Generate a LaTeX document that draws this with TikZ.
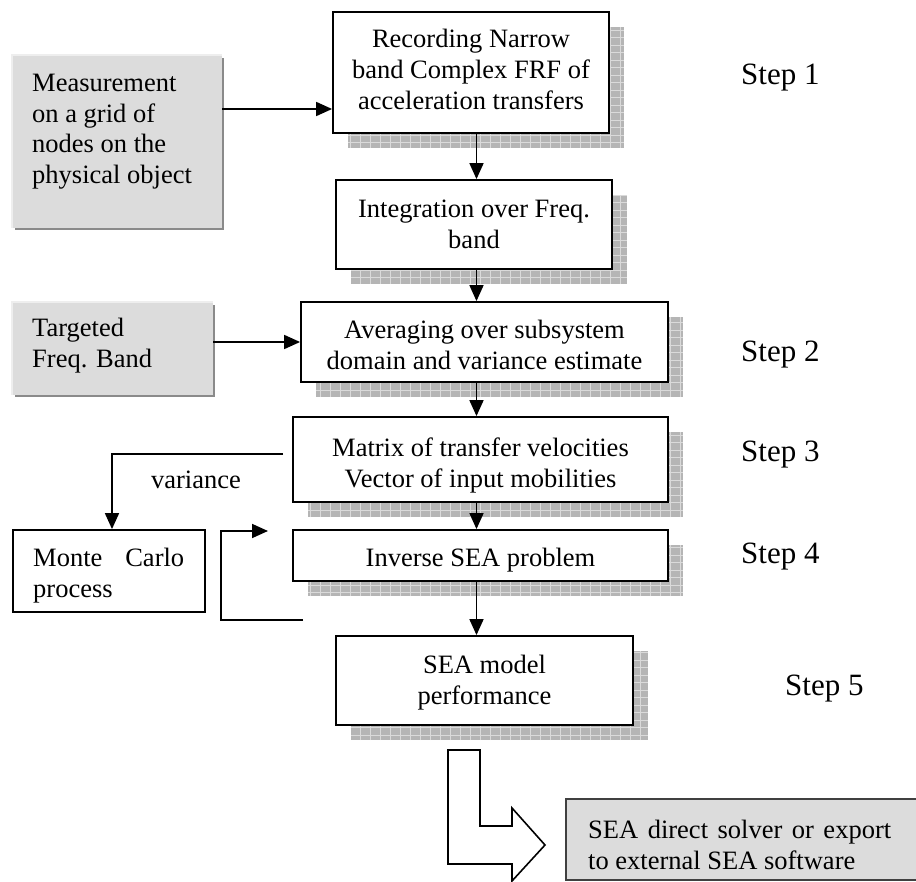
\documentclass[tikz,border=0pt]{standalone}
\usepackage{fontspec}
\setmainfont{Liberation Serif}
\usetikzlibrary{arrows.meta}
\definecolor{gfill}{HTML}{DCDCDC}
\definecolor{glight}{HTML}{EEEEEE}
\definecolor{gdark}{HTML}{8A8A8A}
\definecolor{shadc}{HTML}{B5B5B5}
\definecolor{shadl}{HTML}{DADADA}
\newcommand\shad[4]{%
  \fill[shadc] ({#1+15},{#2+15}) rectangle ({#3+15},{#4+15});
  \begin{scope}
    \clip ({#1+15},{#2+15}) rectangle ({#3+15},{#4+15});
    \draw[shadl, line width=0.9pt] ({#1+15},{#2+15}) grid[xstep=10pt,ystep=7.5pt] ({#3+15},{#4+15});
  \end{scope}}
\newcommand\gedge[4]{%
  \fill[glight] ({#1-2},{#2-2}) rectangle (#3,#4);
  \fill[gdark] ({#1+2},{#2+2}) rectangle ({#3+2},{#4+2});}
\begin{document}
\begin{tikzpicture}[x=1pt,y=-1pt,
  font=\fontsize{26.5}{30.6}\selectfont,
  box/.style={draw, fill=white, line width=1.8pt, inner sep=0pt},
  boxtxt/.style={inner sep=0pt, align=center},
  gbox/.style={fill=gfill, inner sep=0pt},
  arr/.style={line width=1.7pt, -{Triangle[length=16pt,width=14pt]}},
  txt/.style={inner sep=0pt, align=left, anchor=north west},
  steplabel/.style={inner sep=0pt, anchor=west, font=\fontsize{31}{36}\selectfont}]
\useasboundingbox (0,0) rectangle (916,882);
\fill[white] (0,0) rectangle (916,882);

% shadows
\shad{333}{12}{609}{133}
\shad{336}{180}{612}{269}
\shad{301}{302}{668}{382}
\shad{293}{417}{668}{502}
\shad{293}{530}{668}{581}
\shad{336}{636}{633}{725}

% main boxes
\node[box, minimum width=276pt, minimum height=121pt] (b1) at (471,72.5) {};
\node[boxtxt, yshift=3pt] (b1t) at (b1) {Recording Narrow\\band Complex FRF of\\acceleration transfers};
\node[box, minimum width=276pt, minimum height=89pt] (b2) at (474,224.5) {};
\node[boxtxt] (b2t) at (b2) {Integration over Freq.\\band};
\node[box, minimum width=367pt, minimum height=80pt] (b3) at (484.5,342) {};
\node[boxtxt, yshift=-3pt] (b3t) at (b3) {Averaging over subsystem\\domain and variance estimate};
\node[box, minimum width=375pt, minimum height=85pt] (b4) at (480.5,459.5) {};
\node[boxtxt, yshift=-6pt] (b4t) at (b4) {Matrix of transfer velocities\\Vector of input mobilities};
\node[box, minimum width=375pt, minimum height=51pt] (b5) at (480.5,555.5) {};
\node[boxtxt, yshift=-5pt] (b5t) at (b5) {Inverse SEA problem};
\node[box, minimum width=297pt, minimum height=89pt] (b6) at (484.5,680.5) {};
\node[boxtxt, yshift=-2pt] (b6t) at (b6) {SEA model\\performance};

% grey input boxes
\gedge{13}{56}{222}{228}
\node[gbox, minimum width=209pt, minimum height=172pt] (m1) at (117.5,142) {};
\node[txt] (m1t) at (32,74) {Measurement\\on a grid of\\nodes on the\\physical object};
\gedge{13}{303}{213}{395}
\node[gbox, minimum width=200pt, minimum height=92pt] (tf) at (113,349) {};
\node[txt] (tft) at (32,318) {Targeted\\Freq. Band};

% Monte Carlo box
\node[box, minimum width=192pt, minimum height=82pt] (mc) at (109,571) {};
\node[txt] (mct) at (33,548) {\hbox to 151pt{Monte\hfill Carlo}\\process};

% output box
\node[fill=gfill, draw=black!75, line width=1.2pt, inner sep=0pt,
      minimum width=354pt, minimum height=81pt] (sea) at (743,839.5) {};
\node[txt] (seat) at (588,820)
  {\hbox to 303pt{SEA\hfill direct\hfill solver\hfill or\hfill export}\\to external SEA software};

% step labels
\node[steplabel] (s1) at (741,78) {Step 1};
\node[steplabel] (s2) at (741,355) {Step 2};
\node[steplabel] (s3) at (741,455) {Step 3};
\node[steplabel] (s4) at (741,557) {Step 4};
\node[steplabel] (s5) at (785,689) {Step 5};

% connectors
\coordinate (cx) at (476.5,0);
\coordinate (y1) at (0,109);
\draw[arr] (m1.east |- y1) -- (b1.west |- y1);
\draw[arr] (b1.south -| cx) -- (b2.north -| cx);
\draw[arr] (b2.south -| cx) -- (b3.north -| cx);
\draw[arr] (tf.east |- b3.west) -- (b3.west);
\draw[arr] (b3.south -| cx) -- (b4.north -| cx);
\draw[arr] (b4.south -| cx) -- (b5.north -| cx);
\draw[arr] (b5.south -| cx) -- (b6.north -| cx);

\coordinate (v0) at (283,454);
\coordinate (vx) at (112,0);
\draw[arr] (v0) -| (mc.north -| vx);
\node[inner sep=0pt, anchor=base] (var) at (196,488) {variance};

\coordinate (l0) at (303,620);
\coordinate (l1) at (268,531);
\draw[arr] (l0) -- (221,620) |- (l1);

% big hollow arrow
\draw[fill=white, line width=1.6pt, line join=miter]
  (448,750) -- (480,750) -- (480,826) -- (512,826) -- (512,808)
  -- (545,845) -- (512,881) -- (512,864) -- (448,864) -- cycle;
\end{tikzpicture}
\end{document}
